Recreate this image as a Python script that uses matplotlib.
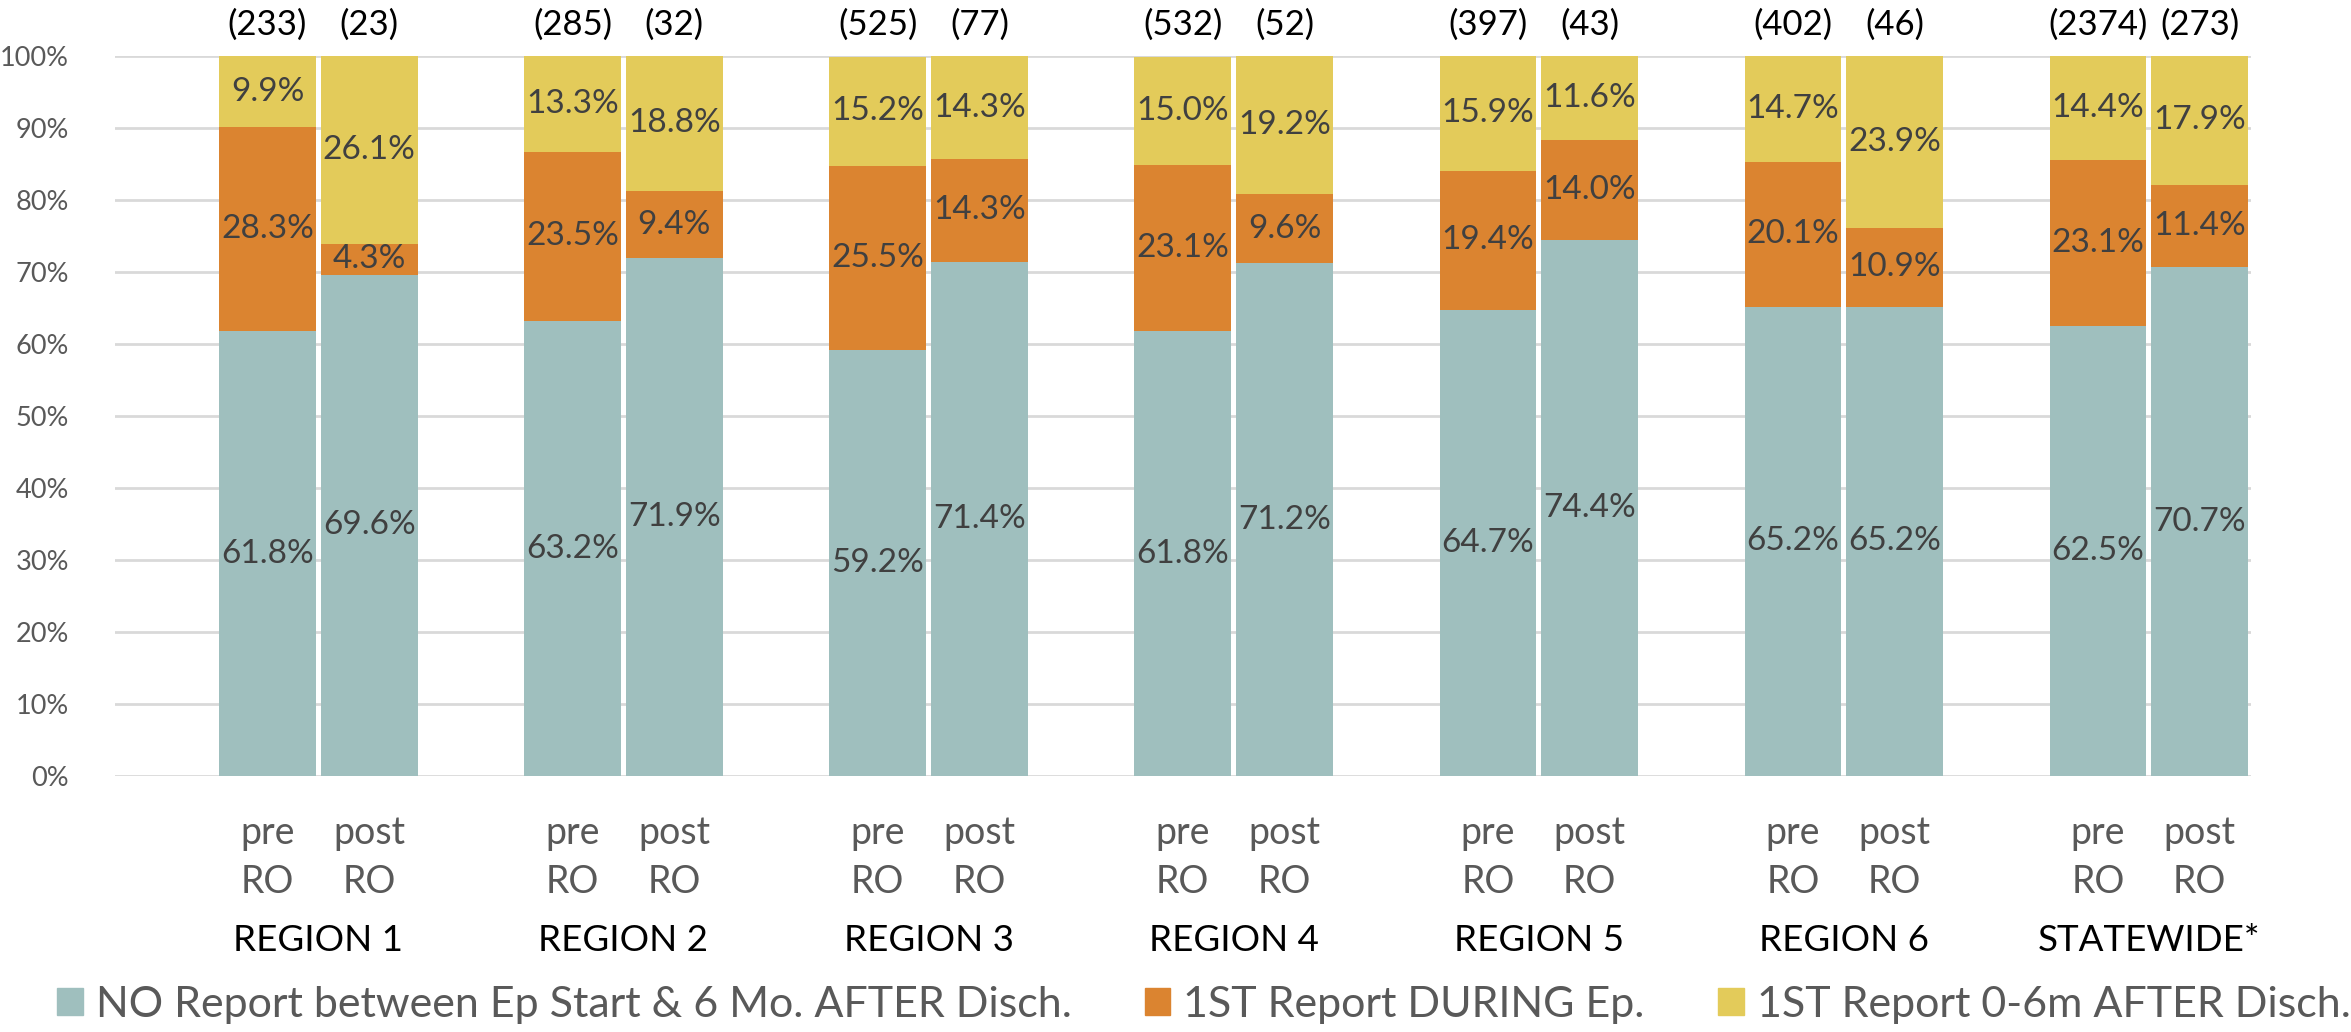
import numpy as np
import matplotlib
matplotlib.use("Agg")
import matplotlib.pyplot as plt
from matplotlib.patches import Patch

plt.rcParams['font.family'] = ['Lato', 'DejaVu Sans']

regions = ["REGION 1", "REGION 2", "REGION 3", "REGION 4", "REGION 5", "REGION 6", "STATEWIDE*"]
periods = ["pre\nRO", "post\nRO"]

# percent of episodes, (pre, post) per region
no_report = [(61.8, 69.6), (63.2, 71.9), (59.2, 71.4), (61.8, 71.2), (64.7, 74.4), (65.2, 65.2), (62.5, 70.7)]
during_ep = [(28.3, 4.3), (23.5, 9.4), (25.5, 14.3), (23.1, 9.6), (19.4, 14.0), (20.1, 10.9), (23.1, 11.4)]
after_disch = [(9.9, 26.1), (13.3, 18.8), (15.2, 14.3), (15.0, 19.2), (15.9, 11.6), (14.7, 23.9), (14.4, 17.9)]
counts = [(233, 23), (285, 32), (525, 77), (532, 52), (397, 43), (402, 46), (2374, 273)]

series = [
    ("NO Report between Ep Start & 6 Mo. AFTER Disch.", no_report, "#9FBFBE"),
    ("1ST Report DURING Ep.", during_ep, "#DB8430"),
    ("1ST Report 0-6m AFTER Disch.", after_disch, "#E3CB5A"),
]

fig = plt.figure(figsize=(23.51, 10.32), dpi=100)
ax = fig.add_axes([0.0489, 0.248, 0.9084, 0.6977])

# each region takes three slots: empty, pre, post
xs = []
for g in range(len(regions)):
    xs += [3 * g + 1, 3 * g + 2]
xs = np.array(xs)

bottom = np.zeros(len(xs))
for name, vals, color in series:
    v = np.array(vals).ravel()
    ax.bar(xs, v, width=0.95, bottom=bottom, color=color, label=name, zorder=2)
    for x, b, h in zip(xs, bottom, v):
        ax.text(x, b + h / 2, f"{h:.1f}%", ha="center", va="center",
                fontsize=24, color="#404040", zorder=3)
    bottom += v

ax.set_xlim(-0.5, 20.5)
ax.set_ylim(0, 100)
ax.set_yticks(np.arange(0, 101, 10))
ax.set_yticklabels([f"{t}%" for t in range(0, 101, 10)], fontsize=19.5, color="#595959")
ax.tick_params(axis="y", length=0, pad=33)
ax.tick_params(axis="x", length=0)
ax.set_xticks([])
ax.grid(axis="y", color="#D9D9D9", linewidth=2, zorder=0)
for s in ax.spines.values():
    s.set_visible(False)

trans = ax.get_xaxis_transform()
for g, (name, n) in enumerate(zip(regions, counts)):
    for k in range(2):
        x = 3 * g + 1 + k
        ax.text(x, 1.043, f"({n[k]})", transform=trans, ha="center", va="center",
                fontsize=25, color="black")
        ax.text(x, -0.1125, periods[k], transform=trans, ha="center", va="center",
                fontsize=27, color="#595959", linespacing=1.45)
    ax.text(3 * g + 1.5, -0.228, name, transform=trans, ha="center", va="center",
            fontsize=26.5, color="black")

handles = [Patch(color=c, label=n) for n, _, c in series]
fig.legend(handles=handles, loc="center", bbox_to_anchor=(0.512, 1 - 1005 / 1032), ncol=3,
           frameon=False, fontsize=31, labelcolor="#595959", handlelength=0.6,
           handleheight=0.6, handletextpad=0.3, columnspacing=1.7)

fig.savefig("out.png", dpi=100)
